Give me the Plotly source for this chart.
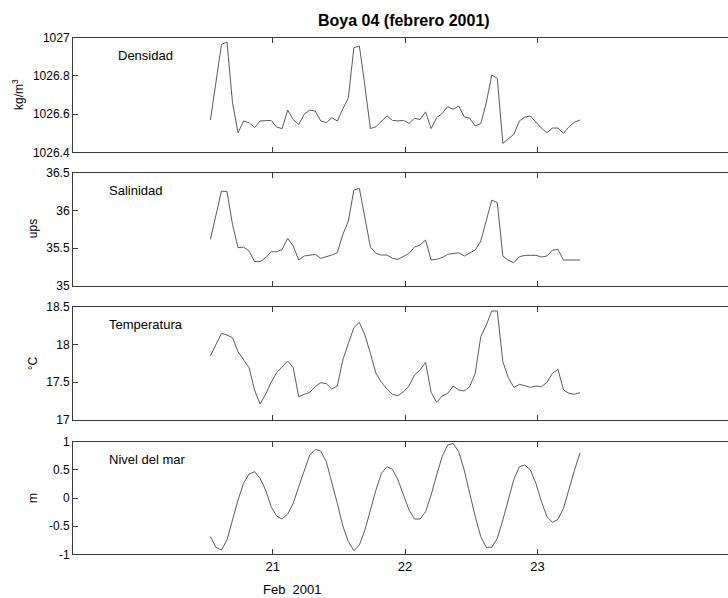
import plotly.graph_objects as go

# ---- data (hourly samples, Feb 2001) ----
start_day = 20.53
step_day = 1 / 24

densidad = [1026.569, 1026.76, 1026.965, 1026.977, 1026.66, 1026.502, 1026.564, 1026.555,
            1026.529, 1026.564, 1026.567, 1026.567, 1026.532, 1026.524, 1026.621, 1026.572,
            1026.546, 1026.599, 1026.621, 1026.616, 1026.564, 1026.555, 1026.581, 1026.564,
            1026.627, 1026.686, 1026.948, 1026.956, 1026.747, 1026.524, 1026.534, 1026.564,
            1026.590, 1026.567, 1026.564, 1026.567, 1026.551, 1026.578, 1026.572, 1026.612,
            1026.524, 1026.581, 1026.604, 1026.639, 1026.625, 1026.642, 1026.586, 1026.578,
            1026.538, 1026.55, 1026.66, 1026.805, 1026.787, 1026.447, 1026.471, 1026.494,
            1026.564, 1026.585, 1026.590, 1026.560, 1026.526, 1026.502, 1026.527, 1026.527,
            1026.499, 1026.534, 1026.558, 1026.569]

salinidad = [35.615, 35.925, 36.257, 36.248, 35.814, 35.504, 35.513, 35.46,
             35.319, 35.319, 35.372, 35.451, 35.451, 35.482, 35.628, 35.527,
             35.341, 35.394, 35.407, 35.416, 35.363, 35.381, 35.407, 35.438,
             35.681, 35.858, 36.27, 36.292, 35.903, 35.513, 35.429, 35.407,
             35.407, 35.363, 35.35, 35.394, 35.429, 35.513, 35.54, 35.606,
             35.341, 35.35, 35.372, 35.416, 35.425, 35.438, 35.394, 35.438,
             35.473, 35.593, 35.858, 36.137, 36.102, 35.394, 35.336, 35.305,
             35.385, 35.403, 35.403, 35.403, 35.381, 35.394, 35.473, 35.482,
             35.341, 35.341, 35.341, 35.341]

temperatura = [17.851, 18.001, 18.147, 18.125, 18.09, 17.904, 17.803, 17.693,
               17.397, 17.212, 17.34, 17.499, 17.626, 17.697, 17.781, 17.693,
               17.309, 17.34, 17.366, 17.441, 17.494, 17.481, 17.410, 17.45,
               17.794, 18.015, 18.222, 18.293, 18.125, 17.882, 17.618, 17.499,
               17.41, 17.34, 17.322, 17.375, 17.45, 17.596, 17.662, 17.763,
               17.366, 17.234, 17.318, 17.353, 17.45, 17.397, 17.384, 17.441,
               17.618, 18.103, 18.257, 18.443, 18.443, 17.772, 17.56, 17.432,
               17.472, 17.454, 17.432, 17.45, 17.441, 17.499, 17.618, 17.671,
               17.397, 17.353, 17.34, 17.362]

nivel = [-0.686, -0.876, -0.923, -0.746, -0.391, -0.036, 0.26, 0.426,
         0.467, 0.349, 0.142, -0.154, -0.32, -0.373, -0.284, -0.095,
         0.201, 0.497, 0.763, 0.864, 0.834, 0.645, 0.29, -0.095,
         -0.497, -0.775, -0.935, -0.834, -0.568, -0.213, 0.142, 0.438,
         0.556, 0.509, 0.32, 0.053, -0.213, -0.373, -0.373, -0.243,
         0.053, 0.408, 0.734, 0.941, 0.970, 0.822, 0.497, 0.083,
         -0.331, -0.686, -0.876, -0.876, -0.716, -0.391, -0.024, 0.331,
         0.556, 0.586, 0.497, 0.26, -0.065, -0.331, -0.432, -0.379,
         -0.183, 0.172, 0.497, 0.805]

days = [start_day + i * step_day for i in range(len(nivel))]

panel_names = ["Densidad", "Salinidad", "Temperatura", "Nivel del mar"]
unit_labels = ["kg/m<sup>3</sup>", "ups", "°C", "m"]
y_ranges = [[1026.4, 1027], [35, 36.5], [17, 18.5], [-1, 1]]
y_ticks = [[1026.4, 1026.6, 1026.8, 1027], [35, 35.5, 36, 36.5],
           [17, 17.5, 18, 18.5], [-1, -0.5, 0, 0.5, 1]]
y_ticktext = [["1026.4", "1026.6", "1026.8", "1027"], ["35", "35.5", "36", "36.5"],
              ["17", "17.5", "18", "18.5"], ["-1", "-0.5", "0", "0.5", "1"]]
x_ticks = [21, 22, 23]
x_ticktext = ["21", "22", "23"]
title_text = "Boya 04 (febrero 2001)"
xlabel_text = "Feb  2001"
series = [densidad, salinidad, temperatura, nivel]

# ---- layout geometry ----
W, H = 728, 598
FONT = "Liberation Sans, Arial, sans-serif"
px_top = [37.7, 172.7, 306.7, 441.7]
px_bot = [152.3, 285.7, 420.0, 554.3]
label_x = [116, 107, 107, 107]
label_y = [56, 190.7, 324, 459]
unit_x = [18, 33, 33, 33]
x_left_px = 73
x_range = [19.492, 24.439]

fig = go.Figure()
layout = dict(
    width=W, height=H,
    margin=dict(l=0, r=0, t=0, b=0),
    paper_bgcolor="white", plot_bgcolor="white",
    showlegend=False,
    font=dict(family=FONT, size=12, color="black"),
    annotations=[],
)

axis_color = "#3a3a3a"
for k in range(4):
    n = "" if k == 0 else str(k + 1)
    fig.add_trace(go.Scatter(
        x=days, y=series[k], mode="lines",
        line=dict(color="#5a5a5a", width=1),
        xaxis="x" + n, yaxis="y" + n, hoverinfo="skip",
    ))
    layout["xaxis" + n] = dict(
        domain=[x_left_px / W, 1], anchor="y" + n, range=x_range,
        tickmode="array", tickvals=x_ticks, ticktext=x_ticktext,
        showticklabels=(k == 3), ticks="inside", ticklen=5, tickcolor=axis_color,
        showline=True, linecolor=axis_color, linewidth=1, mirror="allticks",
        showgrid=False, zeroline=False, automargin=False,
        tickfont=dict(family=FONT, size=13, color="black"),
    )
    layout["yaxis" + n] = dict(
        domain=[1 - px_bot[k] / H, 1 - px_top[k] / H], anchor="x" + n,
        range=y_ranges[k], tickmode="array", tickvals=y_ticks[k], ticktext=y_ticktext[k],
        ticks="inside", ticklen=5, tickcolor=axis_color,
        showline=True, linecolor=axis_color, linewidth=1, mirror=False,
        showgrid=False, zeroline=False, automargin=False,
        tickfont=dict(family=FONT, size=12, color="black"),
    )
    layout["annotations"].append(dict(
        text=panel_names[k], xref="paper", yref="paper",
        x=label_x[k] / W, y=1 - label_y[k] / H, xanchor="left", yanchor="middle",
        showarrow=False, font=dict(family=FONT, size=13, color="black"),
    ))
    layout["annotations"].append(dict(
        text=unit_labels[k], xref="paper", yref="paper", textangle=-90,
        x=unit_x[k] / W, y=1 - (px_top[k] + px_bot[k]) / 2 / H,
        xanchor="center", yanchor="middle",
        showarrow=False, font=dict(family=FONT, size=12, color="black"),
    ))

layout["annotations"].append(dict(
    text="<b>" + title_text + "</b>", xref="paper", yref="paper",
    x=404 / W, y=1 - 21 / H, xanchor="center", yanchor="middle",
    showarrow=False, font=dict(family=FONT, size=16, color="black"),
))
layout["annotations"].append(dict(
    text=xlabel_text, xref="paper", yref="paper",
    x=292 / W, y=1 - 589 / H, xanchor="center", yanchor="middle",
    showarrow=False, font=dict(family=FONT, size=13, color="black"),
))

fig.update_layout(**layout)
fig.write_html(
    "out.html",
    config={"displayModeBar": False},
    post_script="document.body.style.margin='0';document.body.style.overflow='hidden';",
)
